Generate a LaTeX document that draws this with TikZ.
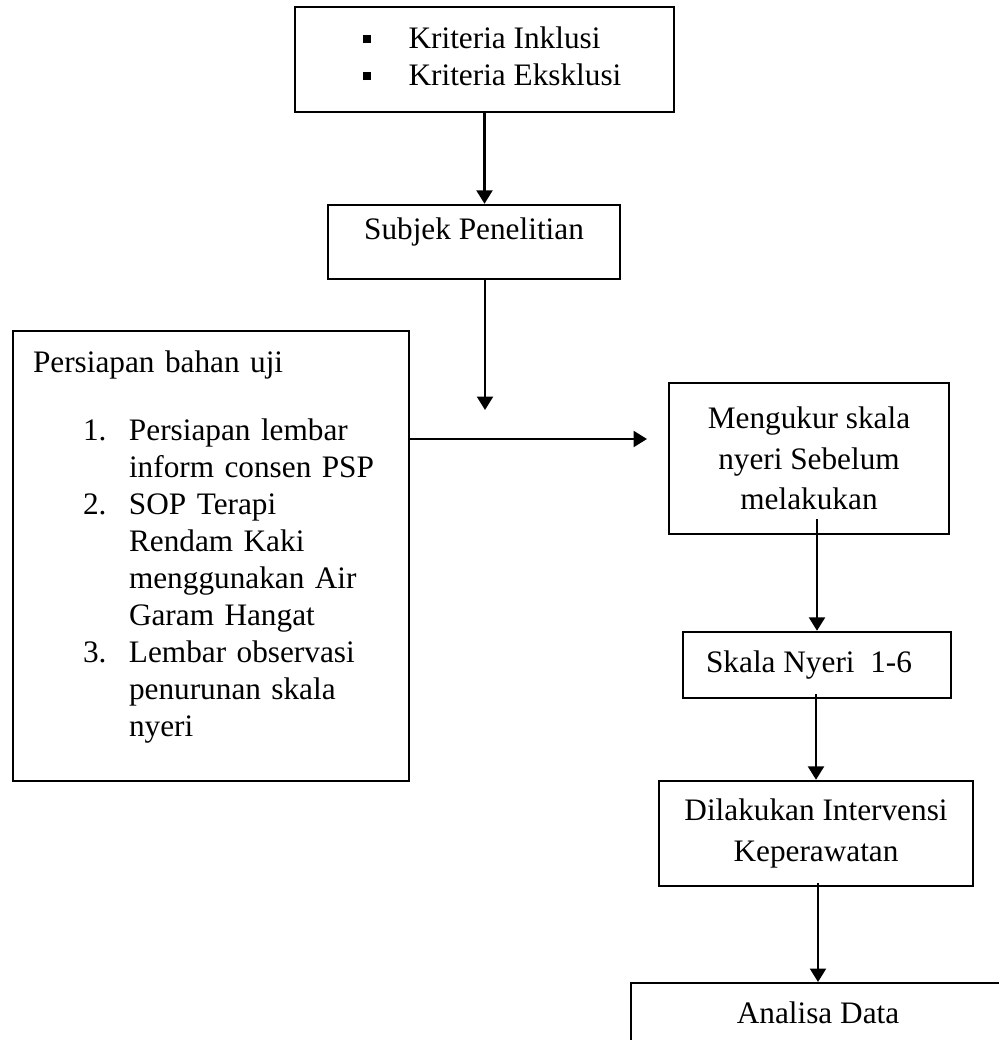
\documentclass[tikz,border=0pt]{standalone}
\usepackage{fontspec}
\setmainfont{Liberation Serif}
\usetikzlibrary{arrows.meta,positioning}
\newcommand{\sqbul}{\rule[0.1cm]{0.16cm}{0.16cm}}

\begin{document}
\begin{tikzpicture}[x=0.02cm,y=-0.02cm,
  flowbox/.style={draw,line width=1.4pt,font=\fontsize{17.8}{21}\selectfont,align=center,inner sep=0pt},
  widebox/.style={flowbox,font=\fontsize{17.8}{23.2}\selectfont},
  flowarr/.style={line width=1.4pt,-{Triangle[length=0.27cm,width=0.32cm]}}]
  \useasboundingbox (0,0) rectangle (998,1040);
  \node[flowbox,minimum width=7.58cm,minimum height=2.1cm] (krit) at (484.5,59.5)
    {\hspace{0.3cm}\begin{tabular}{@{}l@{\hspace{0.76cm}}l@{}}\sqbul & Kriteria Inklusi\\ \sqbul & Kriteria Eksklusi\end{tabular}};
  \node[flowbox,minimum width=5.84cm,minimum height=1.48cm] (subj) at (474,242) {Subjek Penelitian\\[-0.2cm]};
  \node[flowbox,minimum width=7.92cm,minimum height=9cm,text width=7.12cm,align=left] (prep) at (211,556)
    {Persiapan bahan uji\\[0.63cm]
     \hspace*{1cm}\makebox[0.92cm][l]{1.}Persiapan lembar\\
     \hspace*{1.92cm}inform consen PSP\\
     \hspace*{1cm}\makebox[0.92cm][l]{2.}SOP Terapi\\
     \hspace*{1.92cm}Rendam Kaki\\
     \hspace*{1.92cm}menggunakan Air\\
     \hspace*{1.92cm}Garam Hangat\\
     \hspace*{1cm}\makebox[0.92cm][l]{3.}Lembar observasi\\
     \hspace*{1.92cm}penurunan skala\\
     \hspace*{1.92cm}nyeri\rule[-0.5cm]{0pt}{0.5cm}};
  \node[widebox,minimum width=5.6cm,minimum height=3.02cm] (meng) at (809,458.5) {Mengukur skala\\nyeri Sebelum\\melakukan};
  \node[flowbox,minimum width=5.36cm,minimum height=1.32cm] (skala) at (817,665) {Skala Nyeri\ \ 1-6\hspace{0.32cm}};
  \node[widebox,minimum width=6.28cm,minimum height=2.1cm] (dil) at (816,833.5) {Dilakukan Intervensi\\Keperawatan};
  \node[flowbox,minimum width=7.48cm,minimum height=1.2cm,anchor=north] (anal) at (818,982) {Analisa Data};
  \coordinate (join) at (485,410);
  \coordinate (hin) at (647,439);
  \draw[flowarr] (krit.south) -- (krit.south |- subj.north);
  \draw[flowarr] (join |- subj.south) -- (join);
  \draw[flowarr] (prep.east |- hin) -- (hin);
  \draw[flowarr] (skala.north |- meng.south) ++(0,-16) -- (skala.north);
  \draw[flowarr] (dil.north |- skala.south) ++(0,-5) -- (dil.north);
  \draw[flowarr] (anal.north |- dil.south) ++(0,-4) -- (anal.north);
\end{tikzpicture}
\end{document}
